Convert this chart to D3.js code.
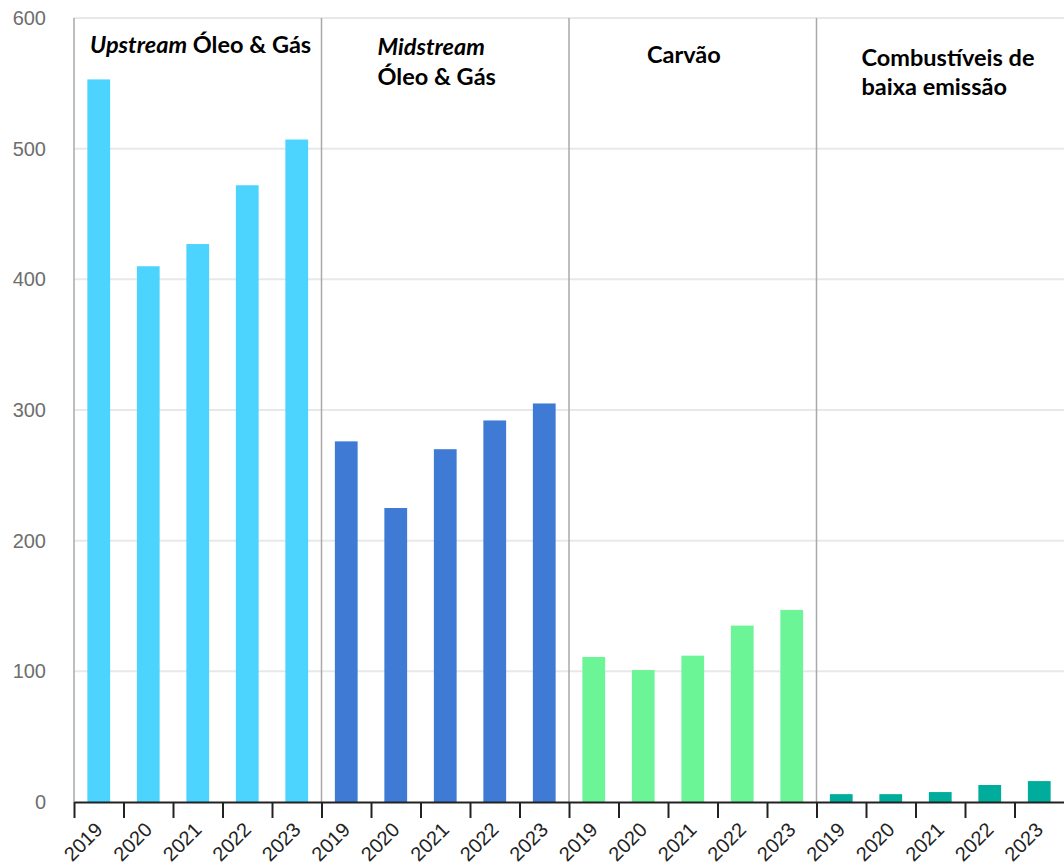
<!DOCTYPE html>
<html>
<head>
<meta charset="utf-8">
<script src="https://cdn.jsdelivr.net/npm/d3@7"></script>
<style>
  body { margin: 0; background: #fff; }
  svg { display: block; }
</style>
</head>
<body>
<script>
const WIDTH = 1064;
const HEIGHT = 867;
const MARGIN = {top: 18, right: 0, bottom: 65, left: 74};

// data
const GROUPS = ["upstream", "midstream", "carvao", "baixa"];
const YEARS = ["2019", "2020", "2021", "2022", "2023"];
const UPSTREAM = [553, 410, 427, 472, 507];
const MIDSTREAM = [276, 225, 270, 292, 305];
const CARVAO = [111, 101, 112, 135, 147];
const BAIXA = [6, 6, 7.6, 13, 16];
const Y_TICKS = [0, 100, 200, 300, 400, 500, 600];
const COLORS = ["#4cd3fe", "#3f7bd5", "#6bf597", "#00ac9b"];

const SERIES = [UPSTREAM, MIDSTREAM, CARVAO, BAIXA];

const svg = d3.select("body")
              .append("svg")
              .attr("width", WIDTH)
              .attr("height", HEIGHT);

//scales
const xGroup = d3.scaleBand()
                 .domain(GROUPS)
                 .range([MARGIN.left, WIDTH - MARGIN.right])
                 .padding(0);

const xYear = d3.scaleBand()
                .domain(YEARS)
                .range([0, xGroup.bandwidth()])
                .paddingInner(0.54)
                .paddingOuter(0.27);

const y = d3.scaleLinear()
            .domain([0, 600])
            .range([HEIGHT - MARGIN.bottom, MARGIN.top]);

// slots on the x axis: one per group/year
const slots = GROUPS.flatMap(g => YEARS.map(yr => g + "|" + yr));
const xSlot = d3.scaleBand()
                .domain(slots)
                .range(xGroup.range())
                .padding(0);

//gridlines
svg.append("g")
   .attr("class", "grid")
   .selectAll("line")
   .data(Y_TICKS.filter(d => d > 0))
   .enter()
   .append("line")
   .attr("x1", MARGIN.left)
   .attr("x2", WIDTH)
   .attr("y1", d => y(d))
   .attr("y2", d => y(d))
   .attr("stroke", "#e8e8e8")
   .attr("stroke-width", 2);

//y axis labels
const yAxis = d3.axisLeft(y)
                .tickValues(Y_TICKS)
                .tickSize(0)
                .tickPadding(28);

svg.append("g")
   .attr("transform", "translate(" + MARGIN.left + ",0)")
   .call(yAxis)
   .call(g => g.select(".domain").remove())
   .call(g => g.selectAll("text")
               .attr("fill", "#6e6e6e")
               .attr("font-family", "'Liberation Sans', Arial, sans-serif")
               .attr("font-size", 20));

//group separators (plus left border)
svg.append("g")
   .selectAll("line")
   .data(GROUPS)
   .enter()
   .append("line")
   .attr("x1", d => xGroup(d))
   .attr("x2", d => xGroup(d))
   .attr("y1", y(600))
   .attr("y2", y(0))
   .attr("stroke", "#a9a9a9")
   .attr("stroke-width", 1.5);

//bars
GROUPS.forEach((g, gi) => {
  svg.append("g")
     .attr("transform", "translate(" + xGroup(g) + ",0)")
     .selectAll("rect")
     .data(SERIES[gi])
     .enter()
     .append("rect")
     .attr("x", (d, i) => xYear(YEARS[i]))
     .attr("y", d => y(d))
     .attr("width", xYear.bandwidth())
     .attr("height", d => y(0) - y(d))
     .attr("fill", COLORS[gi]);
});

//x axis: boundary ticks
const xTicks = d3.axisBottom(xSlot)
                 .tickSize(16)
                 .tickFormat("")
                 .tickSizeOuter(0);

const xAxisG = svg.append("g")
                  .attr("transform", "translate(0," + y(0) + ")")
                  .call(xTicks);

xAxisG.select(".domain")
      .attr("stroke", "#222")
      .attr("stroke-width", 2);

// move ticks to the slot boundaries
xAxisG.selectAll(".tick")
      .attr("transform", d => "translate(" + (xSlot(d) + 0.5) + ",0)");
xAxisG.selectAll(".tick line")
      .attr("stroke", "#222")
      .attr("stroke-width", 2);

//x axis labels, centred on each slot, rotated
const xLabels = d3.axisBottom(xSlot)
                  .tickSize(0)
                  .tickSizeOuter(0)
                  .tickPadding(0)
                  .tickFormat(d => d.split("|")[1]);

svg.append("g")
   .attr("transform", "translate(0," + y(0) + ")")
   .call(xLabels)
   .call(g => g.select(".domain").remove())
   .call(g => g.selectAll("text")
               .attr("fill", "#222")
               .attr("font-family", "'Liberation Sans', Arial, sans-serif")
               .attr("font-size", 20)
               .attr("text-anchor", "end")
               .attr("dy", "0")
               .attr("transform", "translate(5,29) rotate(-45)"));

//group titles
const titleFont = "Lato, 'Open Sans', sans-serif";
const titles = svg.append("g")
                  .attr("font-family", titleFont)
                  .attr("font-weight", "bold")
                  .attr("font-size", 23.5)
                  .attr("fill", "#000");

const t1 = titles.append("text")
                 .attr("x", xGroup("upstream") + 16)
                 .attr("y", 53);
t1.append("tspan").attr("font-style", "italic").text("Upstream");
t1.append("tspan").text(" Óleo & Gás");

const t2 = titles.append("text")
                 .attr("x", xGroup("midstream") + 56)
                 .attr("y", 55);
t2.append("tspan").attr("font-style", "italic").text("Midstream");
t2.append("tspan").attr("x", xGroup("midstream") + 56).attr("dy", 30).text("Óleo & Gás");

titles.append("text")
      .attr("x", xGroup("carvao") + 78)
      .attr("y", 63)
      .text("Carvão");

const t4 = titles.append("text")
                 .attr("x", xGroup("baixa") + 45)
                 .attr("y", 66);
t4.append("tspan").text("Combustíveis de");
t4.append("tspan").attr("x", xGroup("baixa") + 45).attr("dy", 29).text("baixa emissão");
</script>
</body>
</html>
